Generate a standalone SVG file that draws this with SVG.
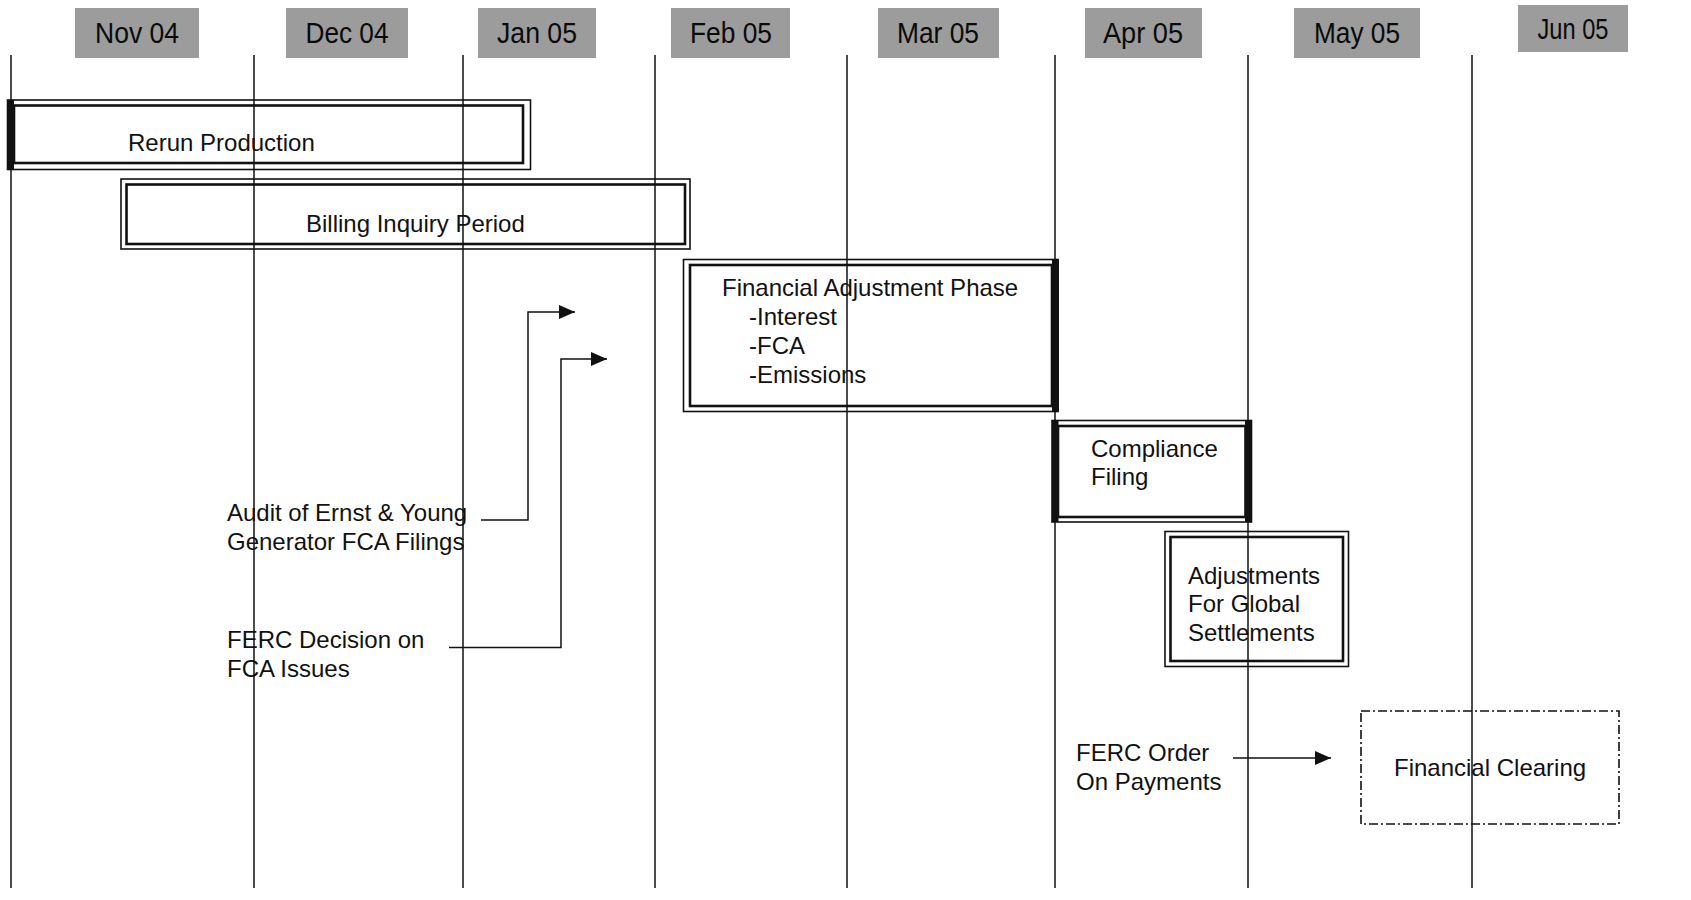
<svg xmlns="http://www.w3.org/2000/svg" width="1691" height="900" viewBox="0 0 1691 900">
<style>
  .grid { stroke:#111; stroke-width:1.5; fill:none; }
  .month { fill:#9c9c9c; }
  .mtxt { font-family:"Liberation Sans", Arial, sans-serif; font-size:29px; fill:#0a0a0a; text-anchor:middle; }
  .txt { font-family:"Liberation Sans", Arial, sans-serif; font-size:24px; fill:#111; }
  .outer { fill:none; stroke:#111; stroke-width:1.6; }
  .inner { fill:none; stroke:#111; stroke-width:2.6; }
  .thick { fill:#111; }
  .conn { fill:none; stroke:#111; stroke-width:1.5; }
  .dashdot { fill:none; stroke:#111; stroke-width:1.6; stroke-dasharray:9 3 2 3; }
</style>
<defs>
  <marker id="arrow" viewBox="0 0 16 14" refX="16" refY="7" markerWidth="16" markerHeight="14" markerUnits="userSpaceOnUse" orient="auto">
    <path d="M0,0 L16,7 L0,14 Z" fill="#111"/>
  </marker>
</defs>
<rect width="1691" height="900" fill="#fff"/>

<g id="grid">
  <line class="grid" x1="11" y1="55" x2="11" y2="888"/>
  <line class="grid" x1="254" y1="55" x2="254" y2="888"/>
  <line class="grid" x1="463" y1="55" x2="463" y2="888"/>
  <line class="grid" x1="655" y1="55" x2="655" y2="888"/>
  <line class="grid" x1="847" y1="55" x2="847" y2="888"/>
  <line class="grid" x1="1055" y1="55" x2="1055" y2="888"/>
  <line class="grid" x1="1248" y1="55" x2="1248" y2="888"/>
  <line class="grid" x1="1472" y1="55" x2="1472" y2="888"/>
</g>

<g id="months">
  <g id="m-nov04"><rect class="month" x="75" y="8" width="124" height="50"/><text class="mtxt" x="137" y="43" textLength="84" lengthAdjust="spacingAndGlyphs">Nov 04</text></g>
  <g id="m-dec04"><rect class="month" x="286" y="8" width="122" height="50"/><text class="mtxt" x="347" y="43" textLength="83" lengthAdjust="spacingAndGlyphs">Dec 04</text></g>
  <g id="m-jan05"><rect class="month" x="478" y="8" width="118" height="50"/><text class="mtxt" x="537" y="43" textLength="80" lengthAdjust="spacingAndGlyphs">Jan 05</text></g>
  <g id="m-feb05"><rect class="month" x="671" y="8" width="119" height="50"/><text class="mtxt" x="731" y="43" textLength="82" lengthAdjust="spacingAndGlyphs">Feb 05</text></g>
  <g id="m-mar05"><rect class="month" x="878" y="8" width="121" height="50"/><text class="mtxt" x="938" y="43" textLength="82" lengthAdjust="spacingAndGlyphs">Mar 05</text></g>
  <g id="m-apr05"><rect class="month" x="1085" y="8" width="117" height="50"/><text class="mtxt" x="1143" y="43" textLength="80" lengthAdjust="spacingAndGlyphs">Apr 05</text></g>
  <g id="m-may05"><rect class="month" x="1294" y="8" width="126" height="50"/><text class="mtxt" x="1357" y="43" textLength="86" lengthAdjust="spacingAndGlyphs">May 05</text></g>
  <g id="m-jun05"><rect class="month" x="1518" y="5" width="110" height="47"/><text class="mtxt" x="1573" y="39" font-size="26" textLength="71" lengthAdjust="spacingAndGlyphs">Jun 05</text></g>
</g>

<g id="rerun-production">
  <rect class="outer" x="7.5" y="100" width="523" height="69.5"/>
  <rect class="inner" x="14" y="105.5" width="509" height="57.5"/>
  <rect class="thick" x="7" y="100" width="7" height="69.5"/>
  <text class="txt" x="128" y="151">Rerun Production</text>
</g>

<g id="billing-inquiry-period">
  <rect class="outer" x="121" y="179" width="569" height="70"/>
  <rect class="inner" x="126.5" y="184.5" width="558.5" height="59.5"/>
  <text class="txt" x="306" y="232">Billing Inquiry Period</text>
</g>

<g id="financial-adjustment-phase">
  <rect class="outer" x="683.5" y="259.5" width="374.5" height="152"/>
  <rect class="inner" x="690" y="265" width="362" height="141"/>
  <rect class="thick" x="1052" y="259.5" width="7" height="152"/>
  <text class="txt" x="722" y="296">Financial Adjustment Phase</text>
  <text class="txt" x="749" y="325">-Interest</text>
  <text class="txt" x="749" y="354">-FCA</text>
  <text class="txt" x="749" y="383">-Emissions</text>
</g>

<g id="compliance-filing">
  <rect class="outer" x="1052" y="420.5" width="199.5" height="101.5"/>
  <rect class="inner" x="1058" y="426" width="187.5" height="91"/>
  <rect class="thick" x="1052" y="420.5" width="6.5" height="101.5"/>
  <rect class="thick" x="1245" y="420.5" width="6.5" height="101.5"/>
  <text class="txt" x="1091" y="457">Compliance</text>
  <text class="txt" x="1091" y="485">Filing</text>
</g>

<g id="adjustments-global-settlements">
  <rect class="outer" x="1165" y="531.5" width="183.5" height="135"/>
  <rect class="inner" x="1170.5" y="537" width="172.5" height="124"/>
  <text class="txt" x="1188" y="584">Adjustments</text>
  <text class="txt" x="1188" y="612">For Global</text>
  <text class="txt" x="1188" y="641">Settlements</text>
</g>

<g id="audit-ernst-young">
  <text class="txt" x="227" y="521">Audit of Ernst &amp; Young</text>
  <text class="txt" x="227" y="550">Generator FCA Filings</text>
</g>

<g id="ferc-decision">
  <text class="txt" x="227" y="648">FERC Decision on</text>
  <text class="txt" x="227" y="677">FCA Issues</text>
</g>

<g id="ferc-order">
  <text class="txt" x="1076" y="761">FERC Order</text>
  <text class="txt" x="1076" y="790">On Payments</text>
</g>

<g id="financial-clearing">
  <rect class="dashdot" x="1361" y="711" width="258" height="113"/>
  <text class="txt" x="1394" y="776">Financial Clearing</text>
</g>

<g id="connectors">
  <path class="conn" d="M481,520 H528 V312 H575" marker-end="url(#arrow)"/>
  <path class="conn" d="M449,647.5 H561 V359 H607" marker-end="url(#arrow)"/>
  <path class="conn" d="M1233,758 H1331" marker-end="url(#arrow)"/>
</g>
</svg>
